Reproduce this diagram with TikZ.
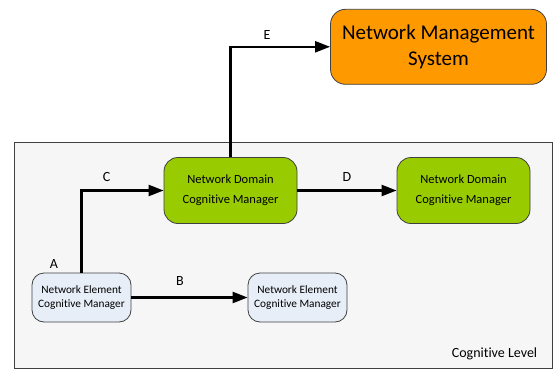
\documentclass[tikz,border=0pt]{standalone}
\usepackage{fontspec}
\setmainfont{Carlito}[Ligatures=NoCommon]
\usetikzlibrary{arrows.meta}
\definecolor{nmsorange}{HTML}{FF9900}
\definecolor{ndgreen}{HTML}{99CC00}
\definecolor{neblue}{HTML}{E8EEF8}
\definecolor{levelbg}{HTML}{F6F6F6}
\definecolor{edgegray}{HTML}{404040}
\tikzset{
  x=1pt, y=1pt,
  box/.style={draw=edgegray, line width=0.8pt, align=center, inner sep=0pt, text=black},
  nmsbox/.style={box, fill=nmsorange, rounded corners=15pt, minimum width=216pt, minimum height=75pt, font=\fontsize{21}{26}\selectfont},
  ndbox/.style={box, fill=ndgreen, rounded corners=14pt, minimum width=133pt, minimum height=66pt, font=\fontsize{12.5}{20}\selectfont},
  nebox/.style={box, fill=neblue, rounded corners=12pt, minimum width=99pt, minimum height=49pt, font=\fontsize{11.3}{14.3}\selectfont},
  conn/.style={line width=2.3pt, -{Triangle[length=15pt,width=11pt]}},
  lbl/.style={font=\fontsize{14}{16}\selectfont, inner sep=1pt}
}
\begin{document}
\begin{tikzpicture}
\useasboundingbox (0,0) rectangle (553,-369);
\fill[white] (0,0) rectangle (553,-369);
\draw[draw=edgegray, fill=levelbg, line width=1.1pt] (14.5,-142.7) rectangle (552.3,-368.3);
\node[nmsbox] (nms) at (438.5,-46.8) {Network Management\\System};
\node[ndbox] (nd1) at (230.5,-190.5) {Network Domain\\Cognitive Manager};
\node[ndbox] (nd2) at (463.5,-190.5) {Network Domain\\Cognitive Manager};
\node[nebox] (ne1) at (81.5,-297.5) {Network Element\\Cognitive Manager};
\node[nebox] (ne2) at (297.5,-297.5) {Network Element\\Cognitive Manager};
\draw[conn] (nd1.north) |- (nms.west);
\draw[conn] (ne1.north) |- (nd1.west);
\draw[conn] (nd1.east) -- (nd2.west);
\draw[conn] (ne1.east) -- (ne2.west);
\node[lbl] (le) at (267,-34.7) {E};
\node[lbl] (lc) at (106.5,-176.7) {C};
\node[lbl] (ld) at (347,-176.7) {D};
\node[lbl] (lb) at (180,-281) {B};
\node[lbl] (la) at (54,-264) {A};
\node[lbl] (lvl) at (494.5,-354) {Cognitive Level};
\end{tikzpicture}
\end{document}
